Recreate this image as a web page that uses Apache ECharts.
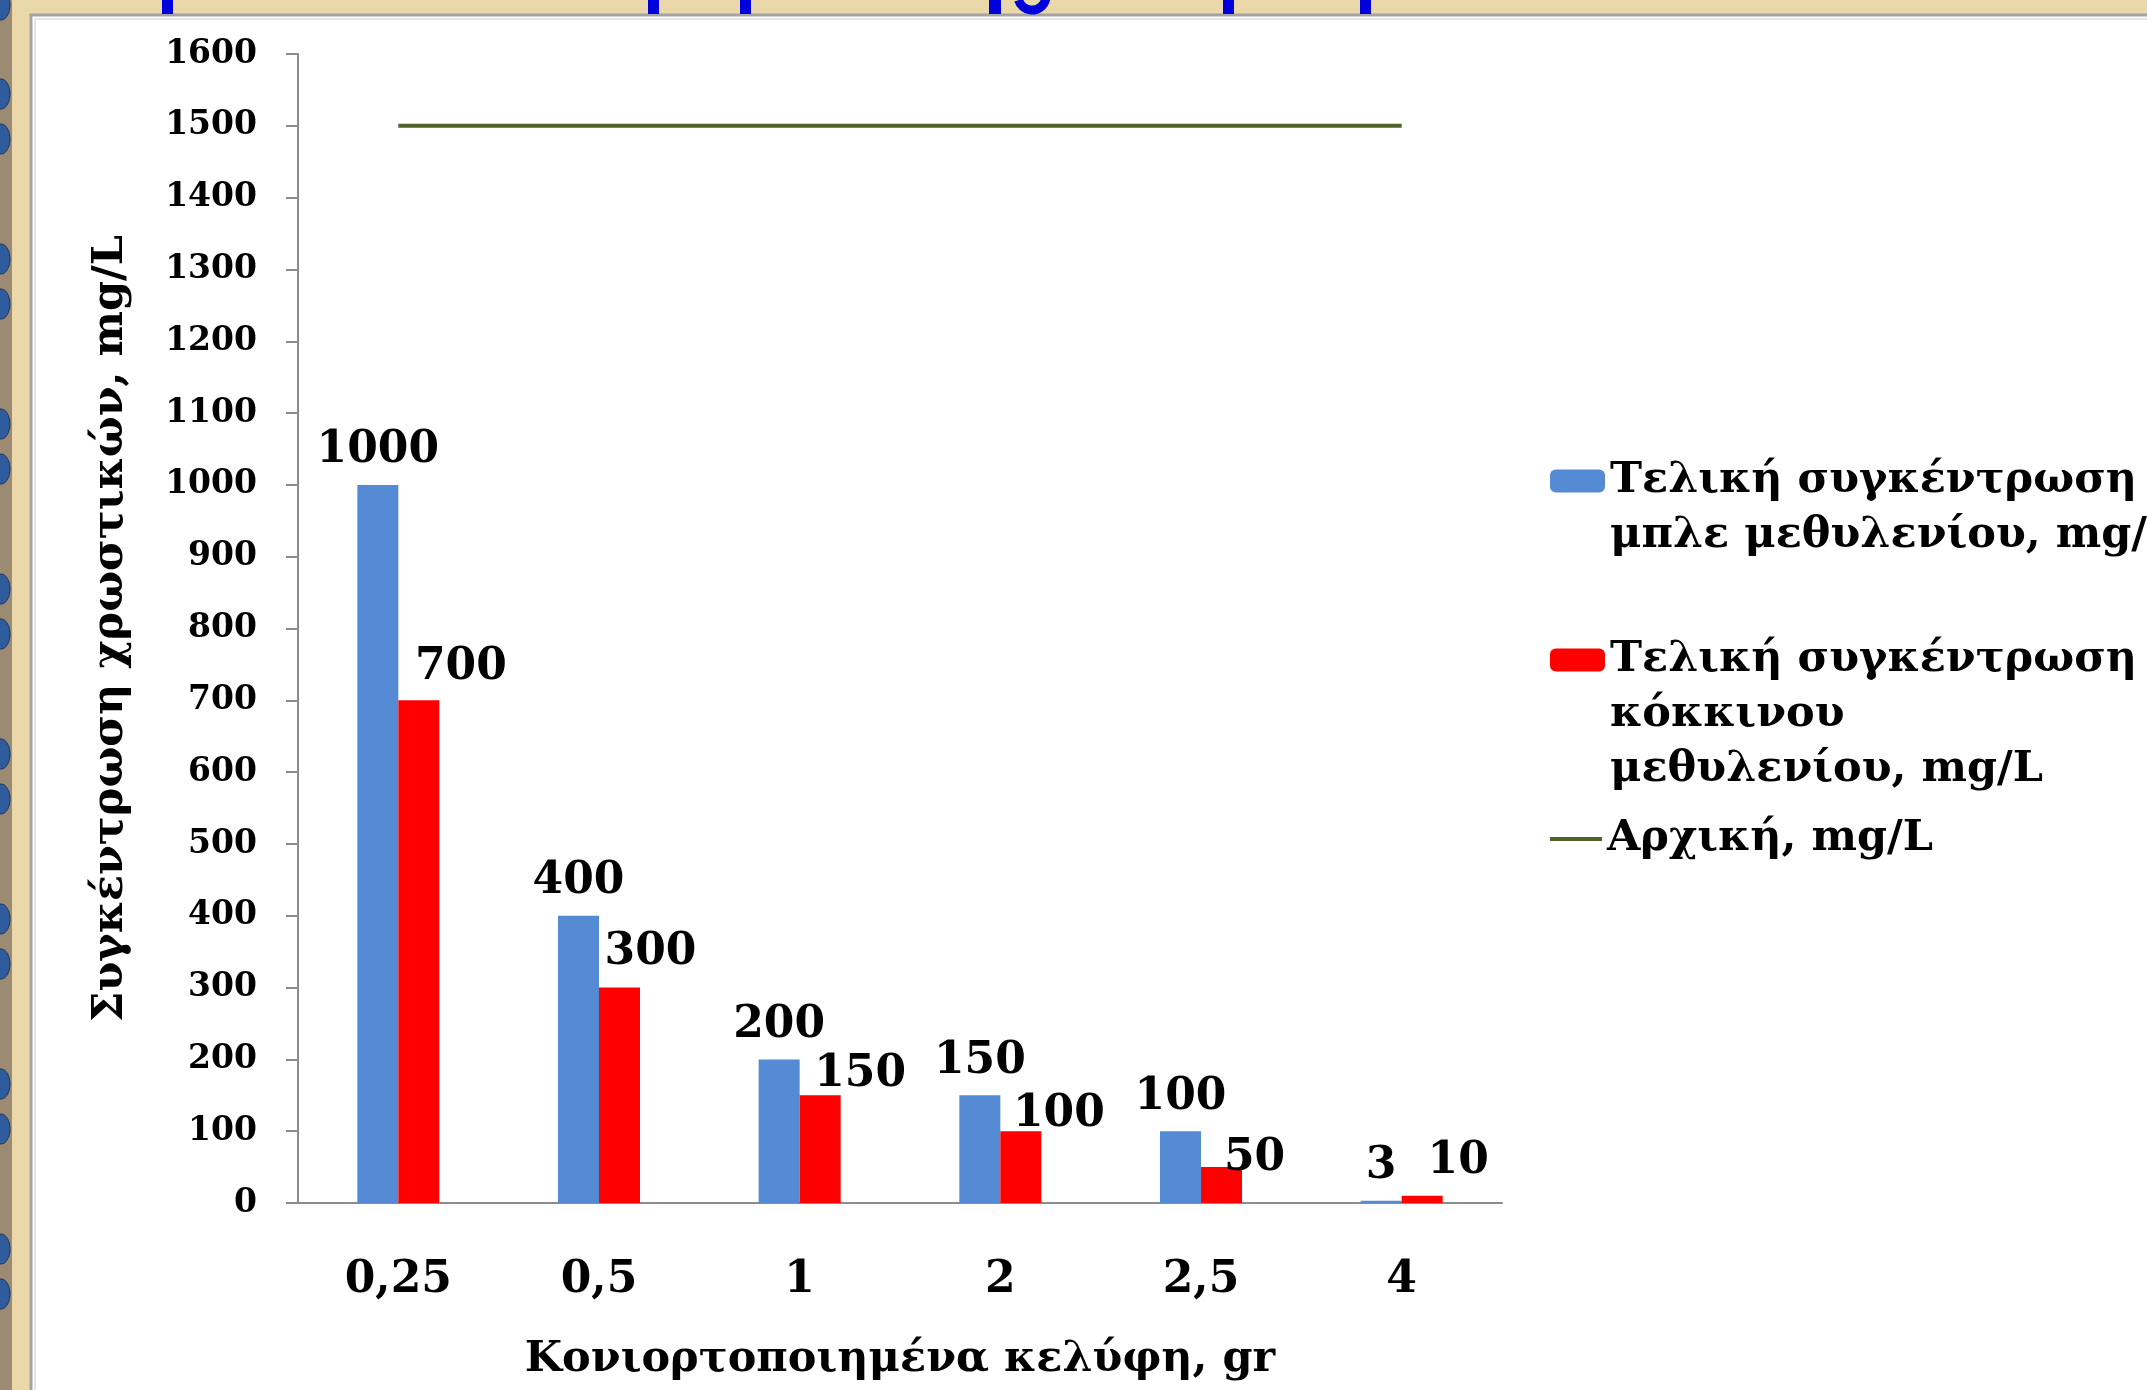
<!DOCTYPE html>
<html>
<head>
<meta charset="utf-8">
<title>Συγκέντρωση χρωστικών</title>
<script src="https://cdn.jsdelivr.net/npm/echarts@6/dist/echarts.min.js"></script>
<style>
  html, body { margin: 0; padding: 0; background: #ead7aa; }
  #chart { width: 2147px; height: 1390px; }
</style>
</head>
<body>
<div id="chart"></div>
<script>
// Shell mass (gr) on the category axis
const categories = ['0,25', '0,5', '1', '2', '2,5', '4'];
// Final concentration of methylene blue, mg/L
const blueFinal = [1000, 400, 200, 150, 100, 3];
// Final concentration of methyl red, mg/L
const redFinal = [700, 300, 150, 100, 50, 10];
// Initial concentration, mg/L
const initialConc = [1500, 1500, 1500, 1500, 1500, 1500];
// Value axis range
const yMin = 0, yMax = 1600, yStep = 100;

const blueName = 'Τελική συγκέντρωση\nμπλε μεθυλενίου, mg/L';
const redName = 'Τελική συγκέντρωση\nκόκκινου\nμεθυλενίου, mg/L';
const lineName = 'Αρχική, mg/L';

const FONT = '"DejaVu Serif", "Liberation Serif", serif';
const BLUE = '#558ad4';
const RED = '#ff0000';
const OLIVE = '#4f6228';
const AXIS = '#8c8c8c';

// Label nudges [dx, dy] for the red bars so their values sit beside the blue ones
const redLabelNudge = [[42, 1], [31, -1], [40, 13], [38, 17], [33, 25], [36, 0]];

const labelFont = { fontFamily: FONT, fontWeight: 'bold', fontSize: 44, color: '#000' };

// One legend block per entry; blank leading lines keep the first line of a
// wrapped name level with its swatch (the legend centres text on the icon)
const LEGEND_LH = 55;
function legendBlock(name, lines, iconCenterY, extra) {
  return Object.assign({
    data: [{ name: name }],
    left: 1550,
    top: iconCenterY - (2 * lines - 1) * LEGEND_LH / 2,
    orient: 'vertical',
    padding: 0,
    itemGap: 0,
    itemWidth: 55,
    itemHeight: 23,
    selectedMode: false,
    formatter: function (n) { return '\n'.repeat(lines - 1) + n; },
    textStyle: {
      fontFamily: FONT, fontWeight: 'bold', fontSize: 43, color: '#000',
      lineHeight: LEGEND_LH
    }
  }, extra || {});
}

// Border decoration: blue beads along the left edge
const beads = [];
[5, 94, 139, 259, 304, 424, 469, 589, 634, 754, 799, 919, 964, 1084, 1129, 1249, 1294].forEach(function (cy) {
  beads.push({
    type: 'ellipse', z: -9, silent: true,
    shape: { cx: 1, cy: cy, rx: 9, ry: 15 },
    style: { fill: '#2f5c9c', stroke: '#1d3560', lineWidth: 1 }
  });
});

// Lower ends of the slide heading, which runs off the top edge
const headingStrokes = [[162, 11], [648, 11], [740, 11], [989, 12], [1223, 11], [1360, 11]].map(function (s) {
  return {
    type: 'rect', z: -9, silent: true,
    shape: { x: s[0], y: 0, width: s[1], height: 14 },
    style: { fill: '#0000dd' }
  };
});
headingStrokes.push({
  type: 'arc', z: -9, silent: true,
  shape: { cx: 1032, cy: -4, r: 14, startAngle: 0.15, endAngle: Math.PI - 0.3 },
  style: { stroke: '#0000dd', lineWidth: 9, fill: null }
});

const chart = echarts.init(document.getElementById('chart'), null, { renderer: 'canvas' });

chart.setOption({
  backgroundColor: '#ead7aa',
  animation: false,
  graphic: [
    // mottled left border strip
    { type: 'rect', z: -10, silent: true, shape: { x: 0, y: 0, width: 12, height: 1390 }, style: { fill: '#9c8a72' } },
    // white slide panel
    { type: 'rect', z: -10, silent: true, shape: { x: 31, y: 15, width: 2140, height: 1400 },
      style: { fill: '#ffffff', stroke: '#a3a3a3', lineWidth: 3 } },
    { type: 'rect', z: -10, silent: true, shape: { x: 35, y: 19, width: 2140, height: 1400 },
      style: { fill: null, stroke: '#e6e6e6', lineWidth: 2 } }
  ].concat(beads, headingStrokes),
  legend: [
    legendBlock(blueName, 2, 481),
    legendBlock(redName, 3, 660),
    legendBlock(lineName, 1, 839, { icon: 'rect', itemHeight: 4, itemWidth: 52 })
  ],
  grid: { left: 298, right: 645, top: 54, bottom: 187, containLabel: false },
  xAxis: {
    type: 'category',
    data: categories,
    boundaryGap: true,
    name: 'Κονιορτοποιημένα κελύφη, gr',
    nameLocation: 'middle',
    nameGap: 135,
    nameTextStyle: { fontFamily: FONT, fontWeight: 'bold', fontSize: 43, color: '#000' },
    axisLine: { show: true, lineStyle: { color: AXIS, width: 2 } },
    axisTick: { show: false },
    axisLabel: { fontFamily: FONT, fontWeight: 'bold', fontSize: 44, color: '#000', margin: 56 },
    splitLine: { show: false }
  },
  yAxis: {
    type: 'value',
    min: yMin,
    max: yMax,
    interval: yStep,
    name: 'Συγκέντρωση χρωστικών, mg/L',
    nameLocation: 'middle',
    nameGap: 166,
    nameTextStyle: { fontFamily: FONT, fontWeight: 'bold', fontSize: 43, color: '#000' },
    axisLine: { show: true, lineStyle: { color: AXIS, width: 2 } },
    axisTick: { show: true, inside: false, length: 12, lineStyle: { color: AXIS, width: 2 } },
    axisLabel: {
      fontFamily: FONT, fontWeight: 'bold', fontSize: 33, color: '#000', margin: 41,
      formatter: function (v) { return String(v); }
    },
    splitLine: { show: false }
  },
  series: [
    {
      name: blueName,
      type: 'bar',
      data: blueFinal,
      barWidth: 41,
      barGap: '0%',
      itemStyle: { color: BLUE },
      label: Object.assign({ show: true, position: 'top', distance: 12 }, labelFont)
    },
    {
      name: redName,
      type: 'bar',
      data: redFinal.map(function (v, i) {
        return { value: v, label: { offset: redLabelNudge[i] } };
      }),
      barWidth: 41,
      barGap: '0%',
      itemStyle: { color: RED },
      label: Object.assign({ show: true, position: 'top', distance: 12 }, labelFont)
    },
    {
      name: lineName,
      type: 'line',
      data: initialConc,
      symbol: 'none',
      z: 5,
      lineStyle: { color: OLIVE, width: 4 },
      itemStyle: { color: OLIVE }
    }
  ]
});
</script>
</body>
</html>
